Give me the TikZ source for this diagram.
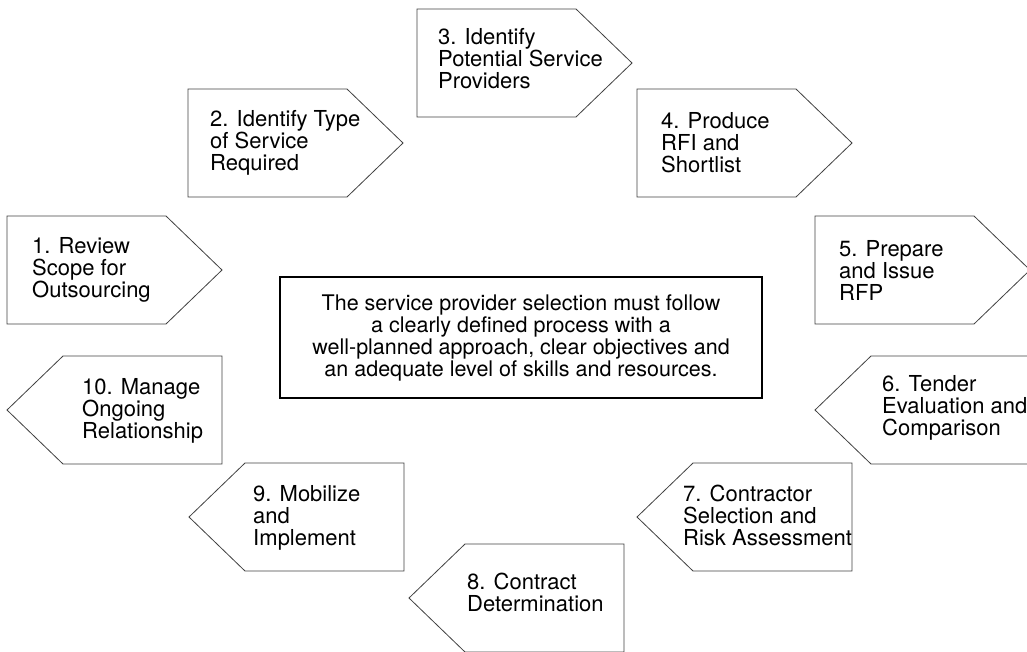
\documentclass[tikz,border=0pt]{standalone}
\usepackage{fontspec}
\setmainfont{TeX Gyre Heros}
\usetikzlibrary{calc}
\newcommand{\stepfont}{\fontsize{22}{22}\selectfont\lineskiplimit=-20pt\relax}
\newcommand{\msgfont}{\fontsize{21.5}{22}\selectfont\lineskiplimit=-20pt\relax}

\begin{document}
\begin{tikzpicture}[x=1pt, y=-1pt,
  box/.style={draw=black!75, line width=0.8pt},
  steptext/.style={anchor=north west, inner sep=0pt, align=left,
    font=\stepfont},
  msgbox/.style={draw, line width=1.4pt, minimum width=482pt,
    minimum height=121pt, align=center, font=\msgfont}]
  \useasboundingbox (0,0) rectangle (1027,651);

  % pointing right: top-left corner
  \coordinate (s1) at (7,216);
  \coordinate (s2) at (188,89);
  \coordinate (s3) at (417,9);
  \coordinate (s4) at (637,89);
  \coordinate (s5) at (815,216);
  % pointing left: tip
  \coordinate (s6) at (815,410);
  \coordinate (s7) at (637,517);
  \coordinate (s8) at (409,598);
  \coordinate (s9) at (189,517);
  \coordinate (s10) at (7,410);

  \foreach \s in {s1,s2,s3,s4,s5}
    \draw[box] (\s) -- ++(159,0) -- ++(56,54) -- ++(-56,54) -- ++(-159,0) -- cycle;
  \foreach \s in {s6,s7,s8,s9,s10}
    \draw[box] (\s) -- ++(56,-54) -- ++(159,0) -- ++(0,108) -- ++(-159,0) -- cycle;

  \node[steptext] (t1) at (32,237) {1. Review\\Scope for\\Outsourcing};
  \node[steptext] (t2) at (210,110) {2. Identify Type\\of Service\\Required};
  \node[steptext] (t3) at (438,28) {3. Identify\\Potential Service\\Providers};
  \node[steptext] (t4) at (661,112) {4. Produce\\RFI and\\Shortlist};
  \node[steptext] (t5) at (839,240) {5. Prepare\\and Issue\\RFP};
  \node[steptext] (t6) at (882,375) {6. Tender\\Evaluation and\\Comparison};
  \node[steptext] (t7) at (683,485) {7. Contractor\\Selection and\\Risk Assessment};
  \node[steptext] (t8) at (467,573) {8. Contract\\Determination};
  \node[steptext] (t9) at (253,485) {9. Mobilize\\and\\Implement};
  \node[steptext] (t10) at (82,378) {10. Manage\\Ongoing\\Relationship};

  \node[msgbox] (msg) at (521,337.5) {The service provider selection must follow\\
    a clearly defined process with a\\
    well-planned approach, clear objectives and\\
    an adequate level of skills and resources.};
\end{tikzpicture}
\end{document}
